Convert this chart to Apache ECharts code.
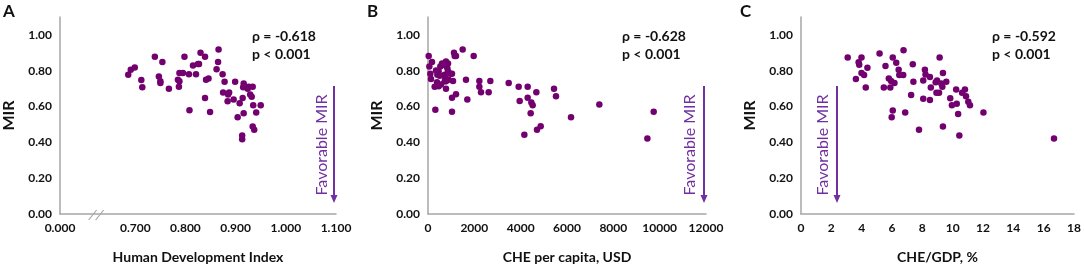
<!DOCTYPE html>
<html>
<head>
<meta charset="utf-8">
<script src="https://cdn.jsdelivr.net/npm/echarts@6/dist/echarts.min.js"></script>
<style>
html,body{margin:0;padding:0;background:#fff;}
#chart{width:1084px;height:269px;}
</style>
</head>
<body>
<div id="chart"></div>
<script>
// Panel A: Human Development Index vs MIR
const hdiA = [0.686,0.691,0.699,0.712,0.714,0.739,0.747,0.750,0.750,0.754,0.767,0.785,0.787,0.788,0.788,0.795,0.798,0.807,0.808,0.815,0.821,0.825,0.827,0.830,0.839,0.839,0.841,0.846,0.849,0.862,0.865,0.866,0.874,0.878,0.875,0.884,0.885,0.887,0.896,0.899,0.904,0.908,0.914,0.916,0.916,0.913,0.913,0.919,0.924,0.926,0.929,0.932,0.934,0.935,0.934,0.937,0.941,0.950,0.915];
const mirA = [0.777,0.805,0.818,0.748,0.708,0.878,0.768,0.741,0.732,0.849,0.699,0.750,0.710,0.741,0.787,0.787,0.878,0.780,0.580,0.829,0.780,0.838,0.838,0.900,0.878,0.648,0.750,0.757,0.569,0.808,0.849,0.918,0.780,0.739,0.679,0.629,0.667,0.679,0.640,0.739,0.540,0.618,0.648,0.728,0.562,0.439,0.417,0.710,0.699,0.710,0.667,0.655,0.710,0.607,0.488,0.470,0.567,0.607,0.708];
// Panel B: CHE per capita (USD) vs MIR
const cheB = [29,58,100,130,173,288,345,390,317,460,532,561,604,460,403,504,720,777,835,863,676,748,777,863,892,720,777,964,1036,1079,1036,1036,1122,1151,1209,1209,1496,1640,1698,1971,2216,2216,2288,2691,2619,3483,3914,3957,4159,4303,4303,4432,4461,4518,4677,4705,4864,5439,5525,6173,7396,9469,9742];
const mirB = [0.882,0.823,0.783,0.754,0.849,0.710,0.801,0.735,0.582,0.796,0.823,0.723,0.841,0.713,0.777,0.772,0.777,0.851,0.814,0.841,0.832,0.759,0.699,0.796,0.750,0.741,0.741,0.783,0.783,0.743,0.649,0.571,0.900,0.882,0.882,0.669,0.918,0.750,0.640,0.882,0.743,0.710,0.680,0.743,0.680,0.732,0.710,0.631,0.443,0.710,0.649,0.562,0.622,0.607,0.680,0.470,0.490,0.699,0.658,0.540,0.611,0.421,0.571];
// Panel C: CHE/GDP (%) vs MIR
const gdpC = [3.08,3.62,3.80,3.84,3.99,3.99,4.16,4.27,4.38,5.18,5.46,5.57,5.79,5.89,5.94,6.05,6.05,5.98,6.16,6.28,6.44,6.48,6.74,6.76,6.87,7.26,7.37,7.41,7.78,8.06,8.06,8.17,8.21,8.50,8.50,8.56,8.88,8.97,8.93,9.10,9.14,9.25,9.32,9.36,9.36,9.58,9.84,9.95,10.23,10.27,10.36,10.44,10.62,10.81,10.88,11.03,11.14,12.03,16.68];
const mirC = [0.874,0.754,0.847,0.834,0.874,0.787,0.776,0.706,0.816,0.896,0.706,0.827,0.757,0.706,0.743,0.874,0.578,0.540,0.732,0.845,0.805,0.776,0.776,0.915,0.567,0.664,0.836,0.739,0.470,0.644,0.746,0.805,0.779,0.765,0.637,0.706,0.735,0.746,0.677,0.677,0.874,0.728,0.710,0.787,0.488,0.739,0.646,0.607,0.695,0.616,0.558,0.439,0.677,0.695,0.658,0.627,0.607,0.567,0.421];

const panelLetters = ['A','B','C'];
const rhoTexts = ['ρ = -0.618','ρ = -0.628','ρ = -0.592'];
const pTexts = ['p < 0.001','p < 0.001','p < 0.001'];
const xTitles = ['Human Development Index','CHE per capita, USD','CHE/GDP, %'];
const yTicks = [0, 0.2, 0.4, 0.6, 0.8, 1.0];
const xTicksA = [0.55, 0.7, 0.8, 0.9, 1.0, 1.1];
const xTickLabelsA = ['0.000','0.700','0.800','0.900','1.000','1.100'];
const xTicksB = [0, 2000, 4000, 6000, 8000, 10000, 12000];
const xTicksC = [0, 2, 4, 6, 8, 10, 12, 14, 16, 18];

const FONT = 'Lato, "Open Sans", sans-serif';
const DOT = '#73006f';
const PURPLE = '#7030A0';
const AX = '#A6A6A6';
const INK = '#111';

function zip(a, b) { return a.map((v, i) => [v, b[i]]); }

const grids = [
  {left: 58, right: 748, top: 17, bottom: 53},
  {left: 428, right: 378, top: 17, bottom: 53},
  {left: 801, right: 10, top: 17, bottom: 53}
];

function xAxis(i, min, max, ticks, fmt) {
  return {
    type: 'value', gridIndex: i, min: min, max: max,
    name: xTitles[i], nameLocation: 'middle', nameGap: 36,
    nameTextStyle: {fontFamily: FONT, fontWeight: 'bold', fontSize: 14, color: INK},
    axisLine: {show: true, onZero: false, lineStyle: {color: AX, width: 1.5}},
    axisTick: {show: false},
    splitLine: {show: false},
    axisLabel: {customValues: ticks, formatter: fmt, margin: 8, fontFamily: FONT, fontWeight: 'bold', fontSize: 12, color: INK, showMinLabel: true, showMaxLabel: true, hideOverlap: false}
  };
}
function yAxis(i) {
  return {
    type: 'value', gridIndex: i, min: 0, max: 1.1,
    name: 'MIR', nameLocation: 'middle', nameGap: 43, nameRotate: 90,
    nameTextStyle: {fontFamily: FONT, fontWeight: 'bold', fontSize: 16, color: INK},
    axisLine: {show: true, lineStyle: {color: AX, width: 1.5}},
    axisTick: {show: false},
    splitLine: {show: false},
    axisLabel: {customValues: yTicks, formatter: v => v.toFixed(2), margin: 8, fontFamily: FONT, fontWeight: 'bold', fontSize: 12, color: INK}
  };
}

const chart = echarts.init(document.getElementById('chart'), null, {renderer: 'canvas'});
const dotStyle = {color: DOT, opacity: 1};
const option = {
  animation: false,
  backgroundColor: '#fff',
  grid: grids,
  xAxis: [
    xAxis(0, 0.55, 1.1, xTicksA, v => { const k = xTicksA.findIndex(t => Math.abs(t - v) < 1e-6); return k >= 0 ? xTickLabelsA[k] : ''; }),
    xAxis(1, 0, 12000, xTicksB, v => String(Math.round(v))),
    xAxis(2, 0, 18, xTicksC, v => String(Math.round(v)))
  ],
  yAxis: [yAxis(0), yAxis(1), yAxis(2)],
  series: [
    {type: 'scatter', xAxisIndex: 0, yAxisIndex: 0, data: zip(hdiA, mirA), symbolSize: 6.5, itemStyle: dotStyle},
    {type: 'scatter', xAxisIndex: 1, yAxisIndex: 1, data: zip(cheB, mirB), symbolSize: 6.5, itemStyle: dotStyle},
    {type: 'scatter', xAxisIndex: 2, yAxisIndex: 2, data: zip(gdpC, mirC), symbolSize: 6.5, itemStyle: dotStyle}
  ]
};
chart.setOption(option);

// decorations
const letterPos = [[3, 3], [367, 3], [740, 3]];
const rhoPos = [[252, 27], [622, 27], [992, 27]];
const arrowX = [334, 704, 837];
const favTextX = [322, 690, 823];
const g = [];
for (let i = 0; i < 3; i++) {
  g.push({type: 'text', left: letterPos[i][0], top: letterPos[i][1], style: {text: panelLetters[i], font: 'bold 17px ' + FONT, fill: INK}});
  g.push({type: 'text', left: rhoPos[i][0], top: rhoPos[i][1], style: {text: rhoTexts[i] + '\n' + pTexts[i], font: 'bold 14px ' + FONT, fill: INK, lineHeight: 18}});
  const ax = arrowX[i];
  g.push({type: 'line', shape: {x1: ax, y1: 86, x2: ax, y2: 198}, style: {stroke: PURPLE, lineWidth: 2}});
  g.push({type: 'polygon', shape: {points: [[ax - 3.5, 195], [ax + 3.5, 195], [ax, 203]]}, style: {fill: PURPLE}});
  g.push({type: 'text', x: favTextX[i], y: 145, rotation: Math.PI / 2, style: {text: 'Favorable MIR', font: '16px ' + FONT, fill: PURPLE, align: 'center', verticalAlign: 'middle'}});
}
// axis break marks on panel A
const bp = chart.convertToPixel({xAxisIndex: 0}, 0.627);
const by = chart.convertToPixel({yAxisIndex: 0}, 0);
g.push({type: 'rect', shape: {x: bp - 5, y: by - 2, width: 8, height: 4}, style: {fill: '#fff'}});
g.push({type: 'line', shape: {x1: bp - 10, y1: by + 6, x2: bp - 2, y2: by - 4}, style: {stroke: AX, lineWidth: 1.2}});
g.push({type: 'line', shape: {x1: bp - 3, y1: by + 6, x2: bp + 5, y2: by - 4}, style: {stroke: AX, lineWidth: 1.2}});
chart.setOption({graphic: g});
</script>
</body>
</html>
